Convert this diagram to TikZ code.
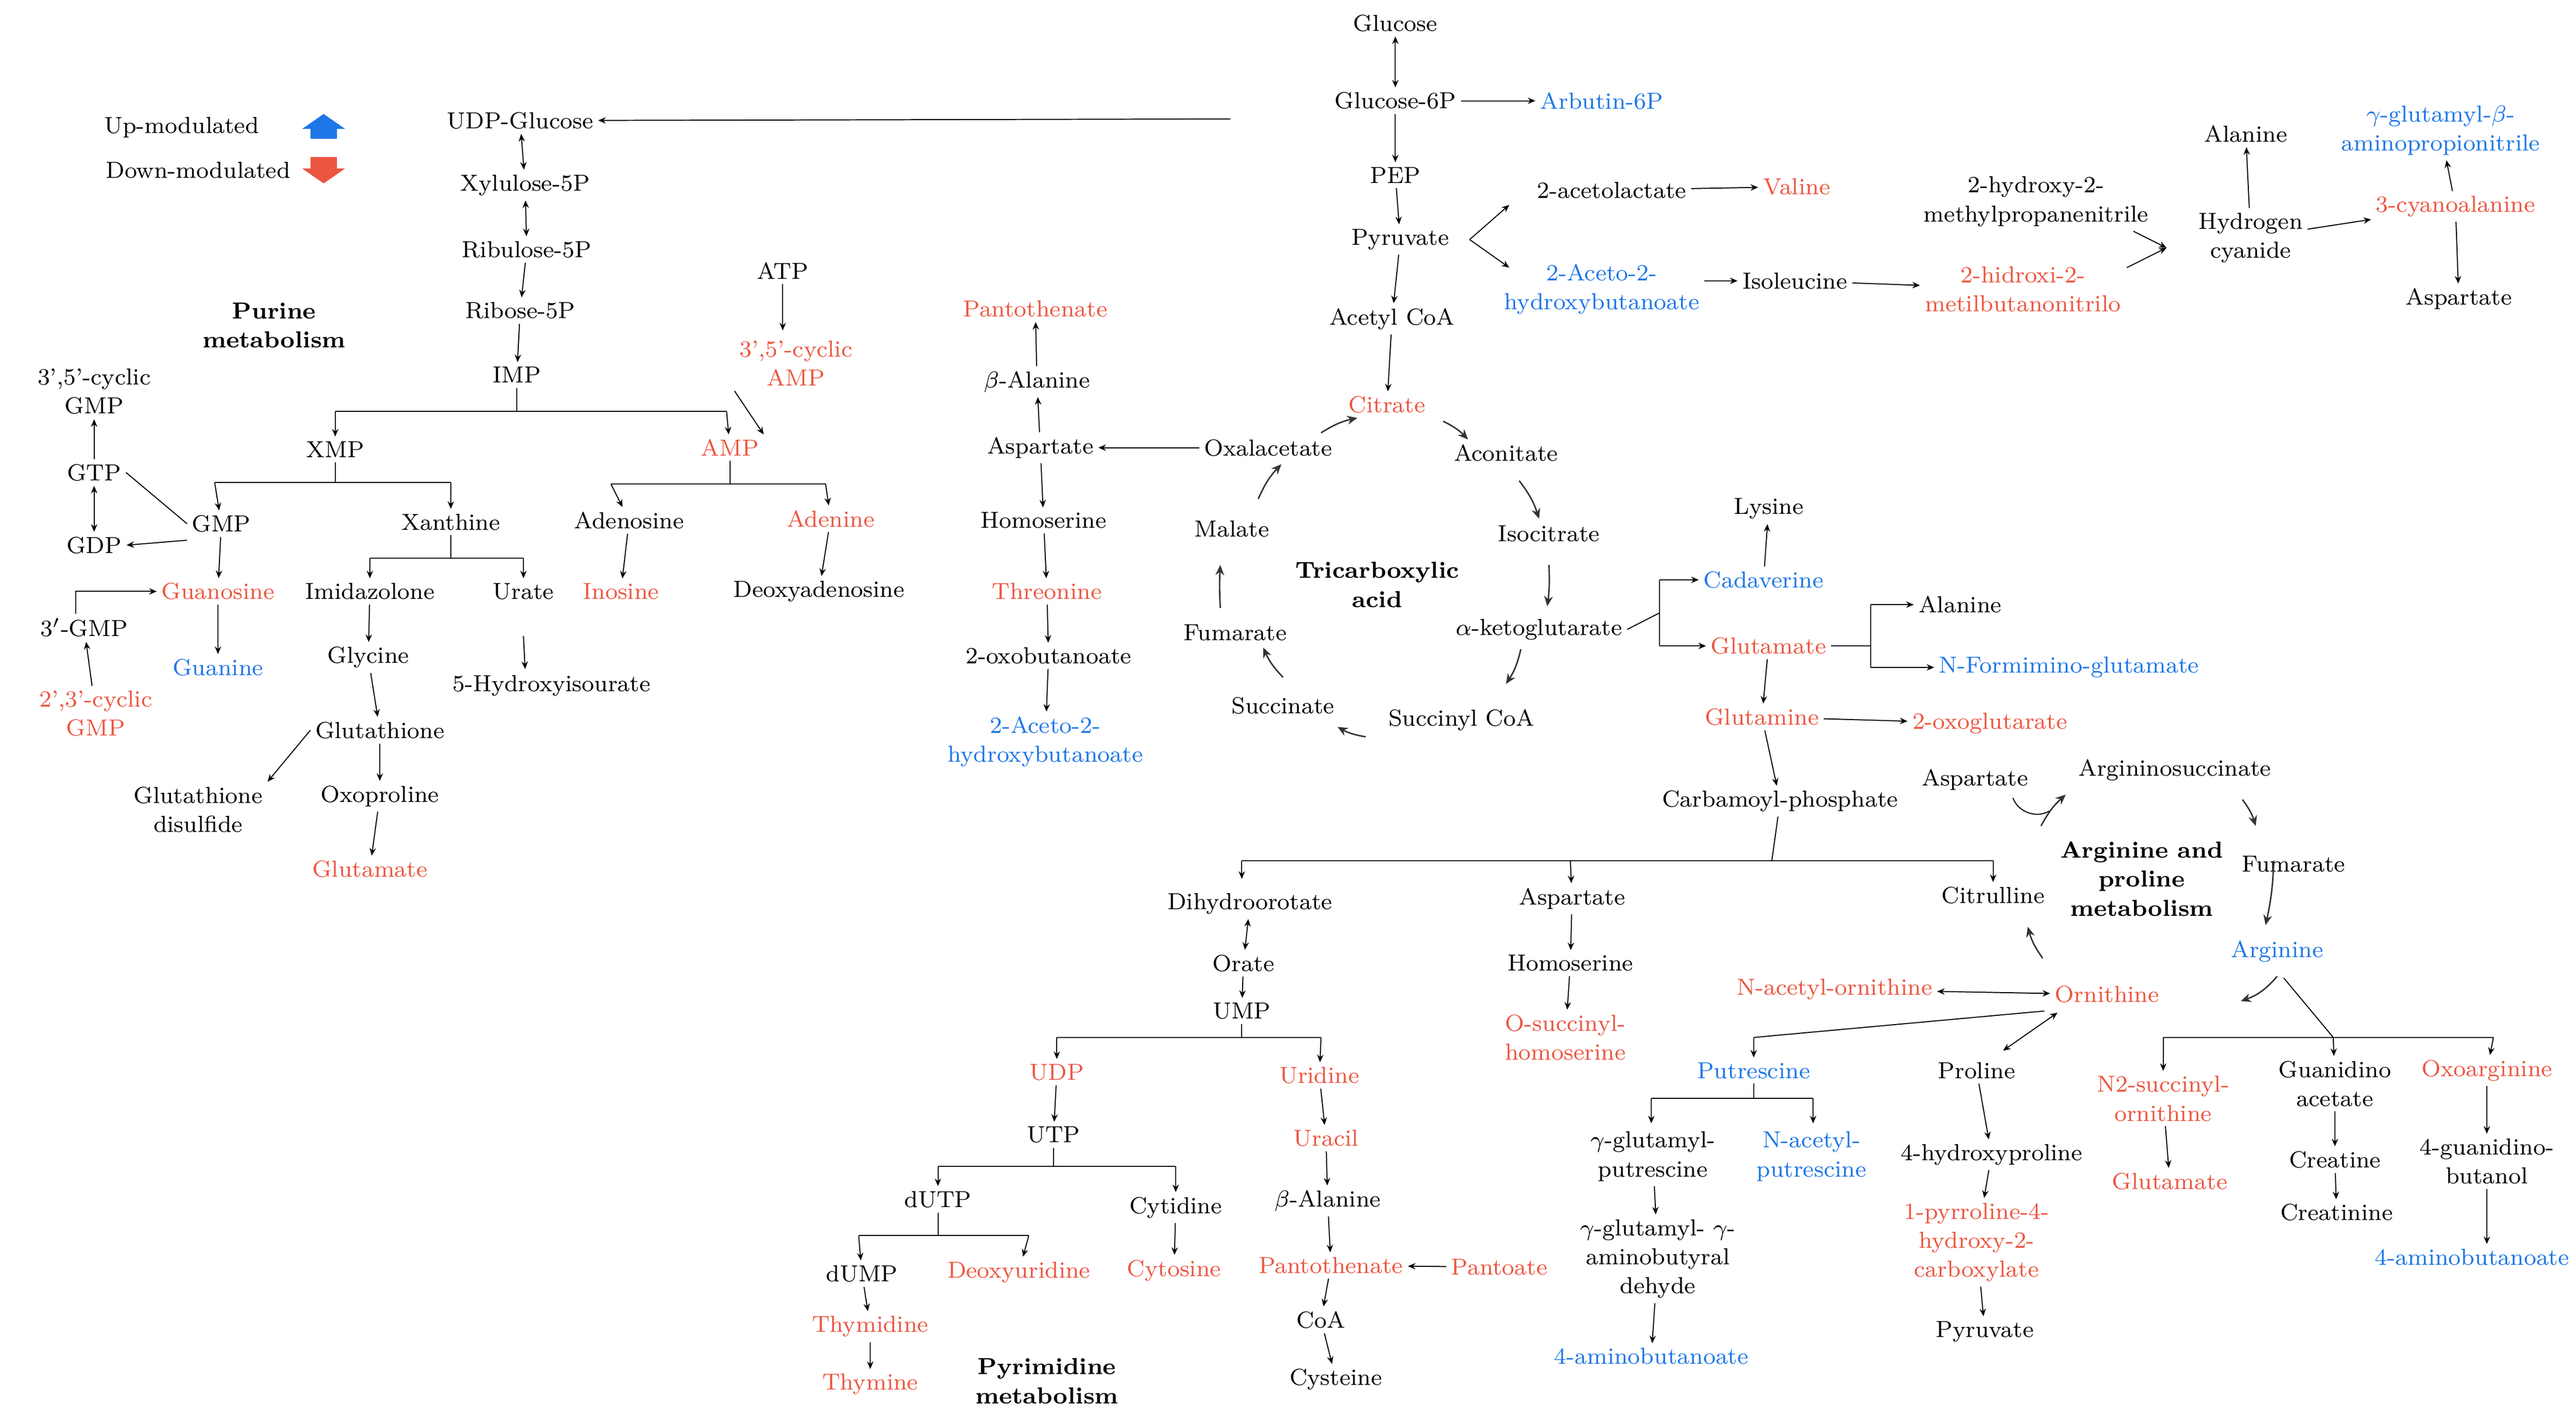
\documentclass[tikz,border=0pt]{standalone}
\usetikzlibrary{arrows.meta}
\definecolor{rd}{RGB}{236,85,64}
\definecolor{bl}{RGB}{30,118,230}
\begin{document}
\begin{tikzpicture}[x=0.02cm,y=-0.02cm,
 every node/.style={font=\fontsize{8}{10}\selectfont,align=center,inner sep=1.5pt},
 r/.style={text=rd}, b/.style={text=bl}, t/.style={font=\fontsize{8}{10}\selectfont\bfseries},
 a/.style={-{Stealth[length=2.6pt,width=2.2pt]},line width=0.35pt},
 aa/.style={{Stealth[length=2.6pt,width=2.2pt]}-{Stealth[length=2.6pt,width=2.2pt]},line width=0.35pt},
 ln/.style={line width=0.35pt},
 c/.style={-{Stealth[length=3.5pt,width=3pt]},line width=0.5pt,draw=black!80}]
\useasboundingbox (0,0) rectangle (1560,860);
% legend
\node (lu) at (110,77) {Up-modulated};
\node (ld) at (120,103) {Down-modulated};
\fill[bl] (188,84)--(188,78)--(183,78)--(196,69)--(209,78)--(204,78)--(204,84)--cycle;
\fill[rd] (188,95)--(188,102)--(183,102)--(196,111)--(209,102)--(204,102)--(204,95)--cycle;
% top
\node (glc) at (845,14) {Glucose};
\node (g6p) at (845,61) {Glucose-6P};
\node[b] (arb) at (970,61) {Arbutin-6P};
\node (pep) at (845,106) {PEP};
\node (pyr) at (848,145) {Pyruvate};
\node (acl) at (976,115) {2-acetolactate};
\node[r] (val) at (1088,113) {Valine};
\node[b] (ahb) at (970,175) {2-Aceto-2-\\hydroxybutanoate};
\node (ile) at (1087,170) {Isoleucine};
\node[r] (hmb) at (1225,175) {2-hidroxi-2-\\metilbutanonitrilo};
\node (hmp) at (1233,122) {2-hydroxy-2-\\methylpropanenitrile};
\node (ala1) at (1360,81) {Alanine};
\node (hcn) at (1363,144) {Hydrogen\\cyanide};
\node[b] (ggb) at (1478,79) {$\gamma$-glutamyl-$\beta$-\\aminopropionitrile};
\node[r] (cya) at (1487,125) {3-cyanoalanine};
\node (asp1) at (1489,181) {Aspartate};
\draw[aa] (glc)--(g6p); \draw[a] (g6p)--(arb); \draw[a] (g6p)--(pep); \draw[a] (pep)--(pyr);
\coordinate (pa) at (890,145); \coordinate (pb) at (914,124); \coordinate (pc) at (914,162);
\draw[a] (pa)--(pb); \draw[a] (pa)--(pc);
\draw[a] (acl)--(val); \draw[a] (ahb.east|-ile)--(ile); \draw[a] (ile)--(hmb);
\coordinate (m) at (1312,150);
\draw[a] (1288,162)--(m); \draw[a] (1292,140)--(m);
\draw[a] (hcn)--(ala1); \draw[a] (hcn)--(cya); \draw[a] (cya)--(ggb); \draw[a] (cya)--(asp1);
% TCA
\node (acc) at (843,193) {Acetyl CoA};
\node[r] (cit) at (840,245) {Citrate};
\node (aco) at (912,274) {Aconitate};
\node (ico) at (938,323) {Isocitrate};
\node (akg) at (932,381) {$\alpha$-ketoglutarate};
\node (suc) at (885,436) {Succinyl CoA};
\node (scn) at (777,427) {Succinate};
\node (fum) at (748,383) {Fumarate};
\node (mal) at (746,320) {Malate};
\node (oxa) at (768,271) {Oxalacetate};
\node[t] (tca) at (834,354) {Tricarboxylic\\acid};
\draw[a] (pyr)--(acc); \draw[a] (acc)--(cit);
\coordinate (t1) at (874,255); \coordinate (t2) at (889,266);
\coordinate (t3) at (920,291); \coordinate (t4) at (932,314);
\coordinate (t5) at (938,342); \coordinate (t6) at (937,367);
\coordinate (t7) at (921,393); \coordinate (t8) at (912,414);
\coordinate (t9) at (827,446); \coordinate (t10) at (810,440);
\coordinate (t11) at (777,410); \coordinate (t12) at (765,392);
\coordinate (t13) at (739,368); \coordinate (t14) at (739,342);
\coordinate (t15) at (762,302); \coordinate (t16) at (776,281);
\coordinate (t17) at (800,262); \coordinate (t18) at (822,253);
\draw[c] (t1) to[bend left=10] (t2); \draw[c] (t3) to[bend left=10] (t4);
\draw[c] (t5) to[bend left=5] (t6); \draw[c] (t7) to[bend left=10] (t8);
\draw[c] (t9) to[bend left=10] (t10); \draw[c] (t11) to[bend left=10] (t12);
\draw[c] (t13) to[bend left=3] (t14); \draw[c] (t15) to[bend left=10] (t16);
\draw[c] (t17) to[bend left=10] (t18);
% UDP glucose / purine
\node (udp) at (315,73) {UDP-Glucose};
\coordinate (ug) at (745,72);
\draw[a] (ug)--(udp);
\node (xyl) at (318,112) {Xylulose-5P};
\node (rbl) at (319,151) {Ribulose-5P};
\node (rib) at (315,188) {Ribose-5P};
\node (imp) at (313,227) {IMP};
\node (atp) at (474,164) {ATP};
\node[r] (camp) at (482,220) {3',5'-cyclic\\AMP};
\node[t] (pur) at (166,197) {Purine\\metabolism};
\node (xmp) at (203,272) {XMP};
\node[r] (amp) at (442,271) {AMP};
\node (cgmp) at (57,237) {3',5'-cyclic\\GMP};
\node (gtp) at (57,286) {GTP};
\node (gdp) at (57,330) {GDP};
\node (gmp) at (134,317) {GMP};
\node (xan) at (273,316) {Xanthine};
\node (ado) at (381,315) {Adenosine};
\node[r] (ade) at (503,314) {Adenine};
\node[r] (guo) at (132,358) {Guanosine};
\node (imi) at (224,358) {Imidazolone};
\node (ura) at (317,358) {Urate};
\node[r] (ino) at (376,358) {Inosine};
\node (dad) at (496,358) {Deoxyadenosine};
\node (gmp3) at (51,380) {3$'$-GMP};
\node[b] (gua) at (132,404) {Guanine};
\node (gly) at (223,398) {Glycine};
\node (hiu) at (334,415) {5-Hydroxyisourate};
\node[r] (cgmp2) at (58,432) {2',3'-cyclic\\GMP};
\node (gsh) at (230,442) {Glutathione};
\node (gss) at (120,490) {Glutathione\\disulfide};
\node (oxp) at (230,482) {Oxoproline};
\node[r] (glu1) at (224,526) {Glutamate};
\draw[aa] (udp)--(xyl); \draw[aa] (xyl)--(rbl); \draw[a] (rbl)--(rib); \draw[a] (rib)--(imp);
\draw[ln] (imp)--(313,249); \draw[ln] (203,249)--(440,249);
\draw[a] (203,249)--(xmp); \draw[a] (440,249)--(amp);
\draw[a] (atp)--(474,200); \draw[a] (camp.south west)--(amp.north east);
\draw[ln] (xmp)--(203,292); \draw[ln] (130,292)--(273,292);
\draw[a] (130,292)--(gmp); \draw[a] (273,292)--(xan);
\draw[ln] (amp)--(442,293); \draw[ln] (370,293)--(500,293);
\draw[a] (370,293)--(ado); \draw[a] (500,293)--(ade);
\draw[ln] (xan)--(273,338); \draw[ln] (224,338)--(317,338);
\draw[a] (224,338)--(imi); \draw[a] (317,338)--(ura);
\draw[a] (ado)--(ino); \draw[a] (ade)--(dad);
\draw[a] (gmp)--(guo); \draw[a] (guo)--(gua);
\draw[ln] (gtp.east)--(gmp.west); \draw[a] (gmp.west)++(0,10)--(gdp.east);
\draw[aa] (gtp)--(gdp); \draw[a] (gtp)--(cgmp);
\draw[a] (gmp3.north)++(-5,0) |- (guo.west);
\draw[a] (cgmp2)--(gmp3);
\draw[a] (imi)--(gly); \draw[a] (gly)--(gsh); \draw[a] (gsh)--(oxp); \draw[a] (oxp)--(glu1);
\draw[a] (gsh.west)--(gss.north east);
\draw[a] (ura)++(0,27)--(318,405);
% middle column
\node[r] (pan1) at (627,187) {Pantothenate};
\node (bal1) at (628,231) {$\beta$-Alanine};
\node (asp2) at (630,271) {Aspartate};
\node (hse1) at (632,315) {Homoserine};
\node[r] (thr) at (634,358) {Threonine};
\node (obu) at (635,397) {2-oxobutanoate};
\node[b] (ahb2) at (633,449) {2-Aceto-2-\\hydroxybutanoate};
\draw[a] (oxa)--(asp2); \draw[a] (asp2)--(bal1); \draw[a] (bal1)--(pan1);
\draw[a] (asp2)--(hse1); \draw[a] (hse1)--(thr); \draw[a] (thr)--(obu); \draw[a] (obu)--(ahb2);
% right
\node (lys) at (1071,308) {Lysine};
\node[b] (cad) at (1068,351) {Cadaverine};
\node[r] (glu2) at (1071,391) {Glutamate};
\node (ala2) at (1187,366) {Alanine};
\node[b] (nfg) at (1253,404) {N-Formimino-glutamate};
\node[r] (gln) at (1067,434) {Glutamine};
\node[r] (oxg) at (1205,438) {2-oxoglutarate};
\node (cbp) at (1078,485) {Carbamoyl-phosphate};
\node (asp3) at (1196,472) {Aspartate};
\node (ags) at (1317,466) {Argininosuccinate};
\node (fum2) at (1389,523) {Fumarate};
\node[t] (arp) at (1297,532) {Arginine and\\proline\\metabolism};
\node[b] (arg) at (1379,576) {Arginine};
\node (cit2) at (1207,542) {Citrulline};
\node[r] (orn) at (1276,602) {Ornithine};
\node[r] (nao) at (1111,599) {N-acetyl-ornithine};
\draw[ln] (akg.east)--(1005,371); \draw[ln] (1005,351)--(1005,391);
\draw[a] (1005,351)--(cad); \draw[a] (1005,391)--(glu2);
\draw[a] (cad)--(lys);
\draw[ln] (glu2)--(1133,391); \draw[ln] (1133,366)--(1133,404);
\draw[a] (1133,366)--(ala2); \draw[a] (1133,404)--(nfg);
\draw[a] (glu2)--(gln); \draw[a] (gln)--(oxg); \draw[a] (gln)--(cbp);
\coordinate (q1) at (1236,500); \coordinate (q2) at (1251,481);
\coordinate (q3) at (1358,484); \coordinate (q4) at (1366,500);
\coordinate (q5) at (1377,521); \coordinate (q6) at (1372,560);
\coordinate (q7) at (1379,591); \coordinate (q8) at (1357,606);
\coordinate (q9) at (1237,580); \coordinate (q10) at (1228,561);
\draw[c] (q1) to[bend left=10] (q2);
\draw[ln] (1219,483) to[bend right=50] (1241,491);
\draw[c] (q3) to[bend left=10] (q4); \draw[c] (q5) to[bend left=5] (q6);
\draw[c] (q7) to[bend left=15] (q8); \draw[c] (q9) to[bend left=10] (q10);
\draw[aa] (nao)--(orn);
% carbamoyl split
\draw[ln] (cbp)--(1073,521); \draw[ln] (752,521)--(1207,521);
\node (dho) at (757,547) {Dihydroorotate};
\node (asp4) at (952,544) {Aspartate};
\draw[a] (752,521)--(752,532); \draw[a] (951,521)--(asp4); \draw[a] (1207,521)--(cit2);
\node (oro) at (753,583) {Orate};
\node (ump) at (752,612) {UMP};
\node (hse2) at (951,583) {Homoserine};
\node[r] (osh) at (948,628) {O-succinyl-\\homoserine};
\draw[aa] (dho)--(oro); \draw[a] (oro)--(ump);
\draw[a] (asp4)--(hse2); \draw[a] (hse2)--(osh);
\node[r] (udpn) at (640,649) {UDP};
\node[r] (urd) at (799,651) {Uridine};
\node (utp) at (638,687) {UTP};
\node[r] (urc) at (803,689) {Uracil};
\node (dutp) at (568,726) {dUTP};
\node (cyd) at (712,731) {Cytidine};
\node (bal2) at (804,727) {$\beta$-Alanine};
\node (dump) at (522,771) {dUMP};
\node[r] (dud) at (617,770) {Deoxyuridine};
\node[r] (cyt) at (711,769) {Cytosine};
\node[r] (pan2) at (806,766) {Pantothenate};
\node[r] (pat) at (908,767) {Pantoate};
\node[r] (thd) at (527,803) {Thymidine};
\node (coa) at (800,799) {CoA};
\node[r] (thy) at (527,838) {Thymine};
\node (cys) at (809,835) {Cysteine};
\node[t] (pyrm) at (634,836) {Pyrimidine\\metabolism};
\draw[ln] (ump)--(752,628); \draw[ln] (640,628)--(800,628);
\draw[a] (640,628)--(udpn); \draw[a] (800,628)--(urd);
\draw[a] (udpn)--(utp);
\draw[ln] (utp)--(638,706); \draw[ln] (568,706)--(712,706);
\draw[a] (568,706)--(dutp); \draw[a] (712,706)--(cyd);
\draw[ln] (dutp)--(568,748); \draw[ln] (520,748)--(623,748);
\draw[a] (520,748)--(dump); \draw[a] (623,748)--(dud);
\draw[a] (dump)--(thd); \draw[a] (thd)--(thy); \draw[a] (cyd)--(cyt);
\draw[a] (urd)--(urc); \draw[a] (urc)--(bal2); \draw[a] (bal2)--(pan2); \draw[a] (pat)--(pan2);
\draw[a] (pan2)--(coa); \draw[a] (coa)--(cys);
% putrescine / proline
\node[b] (put) at (1062,648) {Putrescine};
\node (pro) at (1197,648) {Proline};
\node (ggp) at (1001,700) {$\gamma$-glutamyl-\\putrescine};
\node[b] (nap) at (1097,700) {N-acetyl-\\putrescine};
\node (hyp) at (1206,699) {4-hydroxyproline};
\node (gga) at (1004,762) {$\gamma$-glutamyl- $\gamma$-\\aminobutyral\\dehyde};
\node[r] (phc) at (1197,752) {1-pyrroline-4-\\hydroxy-2-\\carboxylate};
\node (pyr2) at (1202,806) {Pyruvate};
\node[b] (gab1) at (1000,821) {4-aminobutanoate};
\draw[ln] (1238,612)--(1062,628); \draw[a] (1062,628)--(put);
\draw[aa] (1213,636)--(1246,613);
\draw[ln] (put)--(1062,665); \draw[ln] (1000,665)--(1098,665);
\draw[a] (1000,665)--(1000,680); \draw[a] (1098,665)--(1098,680);
\draw[a] (ggp)--(gga); \draw[a] (gga)--(gab1);
\draw[a] (pro)--(hyp); \draw[a] (hyp)--(phc); \draw[a] (phc)--(pyr2);
% arginine branches
\node[r] (nso) at (1310,665) {N2-succinyl-\\ornithine};
\node[r] (glu3) at (1314,715) {Glutamate};
\node (gaa) at (1414,656) {Guanidino\\acetate};
\node (cre) at (1414,702) {Creatine};
\node (crn) at (1415,734) {Creatinine};
\node[r] (oxa2) at (1506,648) {Oxoarginine};
\node (gbu) at (1506,703) {4-guanidino-\\butanol};
\node[b] (gab2) at (1497,761) {4-aminobutanoate};
\draw[ln] (1383,592)--(1413,628); \draw[ln] (1310,628)--(1510,628);
\draw[a] (1310,628)--(nso); \draw[a] (1413,628)--(gaa); \draw[a] (1510,628)--(oxa2);
\draw[a] (nso)--(glu3); \draw[a] (gaa)--(cre); \draw[a] (cre)--(crn);
\draw[a] (oxa2)--(gbu); \draw[a] (gbu)--(gab2.north-|gbu);
\end{tikzpicture}
\end{document}
